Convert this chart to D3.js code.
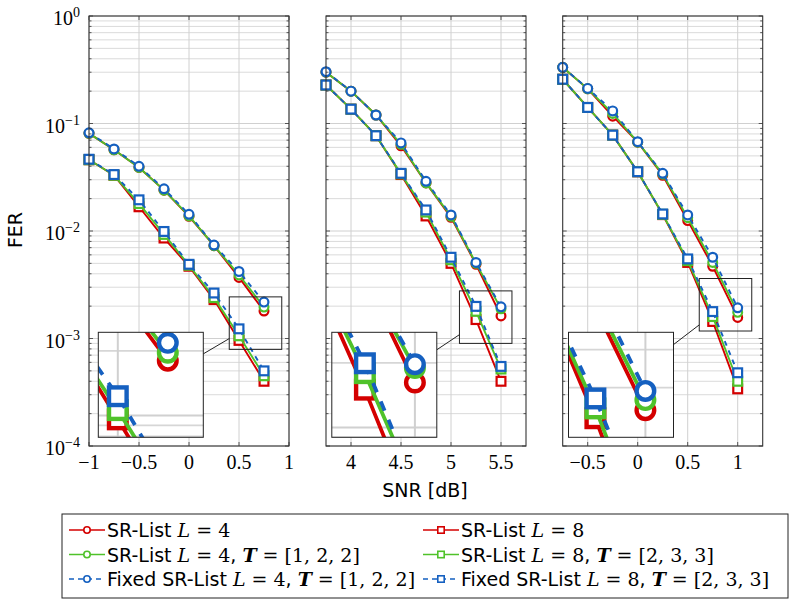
<!DOCTYPE html>
<html>
<head>
<meta charset="utf-8">
<script src="https://cdn.jsdelivr.net/npm/d3@7"></script>
<style>
body { margin: 0; background: #fff; }
text { fill: #000; }
</style>
</head>
<body>
<svg id="chart" width="790" height="600"></svg>
<script>
// SNR points of each panel
const snr1 = [-1, -0.75, -0.5, -0.25, 0, 0.25, 0.5, 0.75];
const snr2 = [3.75, 4, 4.25, 4.5, 4.75, 5, 5.25, 5.5];
const snr3 = [-0.75, -0.5, -0.25, 0, 0.25, 0.5, 0.75, 1];

// panel 1
const p1_L4  = [0.081, 0.057, 0.039, 0.024, 0.0137, 0.0073, 0.0037, 0.0018];
const p1_L8  = [0.046, 0.033, 0.0168, 0.0086, 0.0047, 0.0023, 0.00096, 0.00040];
const p1_L4T = [0.081, 0.057, 0.039, 0.024, 0.0138, 0.0073, 0.0039, 0.00196];
const p1_L8T = [0.046, 0.033, 0.018, 0.0093, 0.0048, 0.0024, 0.00106, 0.00045];
const p1_L4F = [0.082, 0.058, 0.040, 0.0247, 0.0143, 0.0074, 0.0042, 0.00218];
const p1_L8F = [0.0465, 0.0335, 0.0195, 0.0099, 0.0049, 0.00265, 0.00123, 0.00050];

// panel 2
const p2_L4  = [0.30, 0.20, 0.12, 0.062, 0.028, 0.0134, 0.0049, 0.00162];
const p2_L8  = [0.228, 0.136, 0.077, 0.0335, 0.0138, 0.0050, 0.0015, 0.00040];
const p2_L4T = [0.30, 0.20, 0.12, 0.064, 0.028, 0.0137, 0.0050, 0.00189];
const p2_L8T = [0.228, 0.136, 0.077, 0.034, 0.0150, 0.0054, 0.00179, 0.00052];
const p2_L4F = [0.303, 0.20, 0.12, 0.066, 0.029, 0.0141, 0.0051, 0.00197];
const p2_L8F = [0.228, 0.136, 0.077, 0.0344, 0.0157, 0.0057, 0.00199, 0.00055];

// panel 3
const p3_L4  = [0.333, 0.21, 0.117, 0.067, 0.033, 0.0125, 0.0047, 0.00157];
const p3_L8  = [0.258, 0.141, 0.078, 0.0355, 0.0142, 0.0051, 0.00144, 0.00034];
const p3_L4T = [0.333, 0.21, 0.124, 0.067, 0.0338, 0.0133, 0.0051, 0.00175];
const p3_L8T = [0.258, 0.141, 0.078, 0.0356, 0.0143, 0.0053, 0.0016, 0.00040];
const p3_L4F = [0.333, 0.212, 0.131, 0.0677, 0.0344, 0.0141, 0.0057, 0.00193];
const p3_L8F = [0.258, 0.141, 0.078, 0.0356, 0.0144, 0.0055, 0.00178, 0.00048];

// x ticks
const xTicks1 = [-1, -0.5, 0, 0.5, 1];
const xTicks2 = [4, 4.5, 5, 5.5];
const xTicks3 = [-0.5, 0, 0.5, 1];
const yExp = [0, -1, -2, -3, -4];

// centre of the zoomed region in each panel (snr, FER)
const spy1 = [0.665, 0.00139];
const spy2 = [5.347, 0.00158];
const spy3 = [0.878, 0.00206];

const legendLabels = [
  [["SR-List ", "sf"], ["L", "mi"], [" = 4", "mr"]],
  [["SR-List ", "sf"], ["L", "mi"], [" = 8", "mr"]],
  [["SR-List ", "sf"], ["L", "mi"], [" = 4", "mr"], [", ", "sf"], ["T", "mb"], [" = [1, 2, 2]", "mr"]],
  [["SR-List ", "sf"], ["L", "mi"], [" = 8", "mr"], [", ", "sf"], ["T", "mb"], [" = [2, 3, 3]", "mr"]],
  [["Fixed SR-List ", "sf"], ["L", "mi"], [" = 4", "mr"], [", ", "sf"], ["T", "mb"], [" = [1, 2, 2]", "mr"]],
  [["Fixed SR-List ", "sf"], ["L", "mi"], [" = 8", "mr"], [", ", "sf"], ["T", "mb"], [" = [2, 3, 3]", "mr"]]
];

const RED = "#d40000", GREEN = "#4fc22a", BLUE = "#1560c0";
const styles = [
  {color: RED, mark: "circle", dash: null},
  {color: RED, mark: "square", dash: null},
  {color: GREEN, mark: "circle", dash: null},
  {color: GREEN, mark: "square", dash: null},
  {color: BLUE, mark: "circle", dash: "5,5"},
  {color: BLUE, mark: "square", dash: "5,5"}
];

const SERIF = "'Liberation Serif', 'DejaVu Serif', serif";
const MATH = "'DejaVu Serif', serif";
const SANS = "'DejaVu Sans', sans-serif";

const plotTop = 16, plotBottom = 446, pw = 200;
const panels = [
  {left: 89, domain: [-1, 1], ticks: xTicks1, snr: snr1, fer: [p1_L4, p1_L8, p1_L4T, p1_L8T, p1_L4F, p1_L8F], spy: spy1, inset: [61.8, 384.8]},
  {left: 326, domain: [3.75, 5.75], ticks: xTicks2, snr: snr2, fer: [p2_L4, p2_L8, p2_L4T, p2_L8T, p2_L4F, p2_L8F], spy: spy2, inset: [58.3, 384.8]},
  {left: 562.7, domain: [-0.75, 1.25], ticks: xTicks3, snr: snr3, fer: [p3_L4, p3_L8, p3_L4T, p3_L8T, p3_L4F, p3_L8F], spy: spy3, inset: [58.3, 384.8]}
];

const svg = d3.select("#chart");
const y = d3.scaleLog().domain([1e-4, 1]).range([plotBottom, plotTop]);

const majorY = yExp.map(k => Math.pow(10, k));
const minorY = [];
[-4, -3, -2, -1].forEach(k => { for (let m = 2; m <= 9; m++) minorY.push(m * Math.pow(10, k)); });

const fmt = v => (v < 0 ? "\u2212" : "") + Math.abs(v);

function drawMark(g, st, cx, cy, r, sw) {
  if (st.mark === "circle") {
    g.append("circle").attr("cx", cx).attr("cy", cy).attr("r", r)
      .attr("fill", "#fff").attr("stroke", st.color).attr("stroke-width", sw);
  } else {
    g.append("rect").attr("x", cx - r).attr("y", cy - r).attr("width", 2 * r).attr("height", 2 * r)
      .attr("fill", "#fff").attr("stroke", st.color).attr("stroke-width", sw);
  }
}

function drawContent(g, x, p) {
  g.append("g").selectAll("line").data(minorY).enter().append("line")
    .attr("x1", 0).attr("x2", pw).attr("y1", d => y(d)).attr("y2", d => y(d))
    .attr("stroke", "#d6d6d6").attr("stroke-width", 0.9);
  g.append("g").selectAll("line").data(majorY).enter().append("line")
    .attr("x1", 0).attr("x2", pw).attr("y1", d => y(d)).attr("y2", d => y(d))
    .attr("stroke", "#d0d0d0").attr("stroke-width", 1);
  g.append("g").selectAll("line").data(p.ticks).enter().append("line")
    .attr("x1", d => x(d)).attr("x2", d => x(d)).attr("y1", plotTop).attr("y2", plotBottom)
    .attr("stroke", "#d0d0d0").attr("stroke-width", 1);

  const line = d3.line().x(d => x(d[0])).y(d => y(d[1]));
  p.fer.forEach((vals, i) => {
    const st = styles[i];
    const pts = p.snr.map((s, j) => [s, vals[j]]);
    const sg = g.append("g");
    sg.append("path").datum(pts).attr("d", line)
      .attr("fill", "none").attr("stroke", st.color).attr("stroke-width", 1.9)
      .attr("stroke-dasharray", st.dash).attr("stroke-linejoin", "round");
    pts.forEach(d => drawMark(sg, st, x(d[0]), y(d[1]), 4.4, 2.2));
  });
}

panels.forEach((p, pi) => {
  const x = d3.scaleLinear().domain(p.domain).range([0, pw]);
  const g = svg.append("g").attr("transform", `translate(${p.left},0)`);

  drawContent(g.append("g"), x, p);

  // spy box and magnified inset
  const cx = x(p.spy[0]), cy = y(p.spy[1]);
  const hb = 26.25, hi = 52.5;
  const [icx, icy] = p.inset;
  const dx = cx - icx, dy = cy - icy;
  const t1 = Math.min(hi / Math.abs(dx), hi / Math.abs(dy));
  const t2 = Math.min(hb / Math.abs(dx), hb / Math.abs(dy));
  g.append("line")
    .attr("x1", icx + t1 * dx).attr("y1", icy + t1 * dy)
    .attr("x2", cx - t2 * dx).attr("y2", cy - t2 * dy)
    .attr("stroke", "#222").attr("stroke-width", 1);
  g.append("rect").attr("x", cx - hb).attr("y", cy - hb).attr("width", 2 * hb).attr("height", 2 * hb)
    .attr("fill", "none").attr("stroke", "#222").attr("stroke-width", 1);

  const clipId = "clip" + pi;
  g.append("clipPath").attr("id", clipId).append("rect")
    .attr("x", icx - hi).attr("y", icy - hi).attr("width", 2 * hi).attr("height", 2 * hi);
  const ig = g.append("g").attr("clip-path", `url(#${clipId})`);
  ig.append("rect").attr("x", icx - hi).attr("y", icy - hi).attr("width", 2 * hi).attr("height", 2 * hi).attr("fill", "#fff");
  drawContent(ig.append("g").attr("transform", `translate(${icx},${icy}) scale(2) translate(${-cx},${-cy})`), x, p);
  g.append("rect").attr("x", icx - hi).attr("y", icy - hi).attr("width", 2 * hi).attr("height", 2 * hi)
    .attr("fill", "none").attr("stroke", "#222").attr("stroke-width", 1);

  // frame ticks
  const tk = g.append("g").attr("stroke", "#333").attr("stroke-width", 0.8);
  p.ticks.forEach(t => {
    tk.append("line").attr("x1", x(t)).attr("x2", x(t)).attr("y1", plotBottom).attr("y2", plotBottom - 4);
    tk.append("line").attr("x1", x(t)).attr("x2", x(t)).attr("y1", plotTop).attr("y2", plotTop + 4);
  });
  majorY.forEach(v => {
    tk.append("line").attr("x1", 0).attr("x2", 4).attr("y1", y(v)).attr("y2", y(v));
    tk.append("line").attr("x1", pw).attr("x2", pw - 4).attr("y1", y(v)).attr("y2", y(v));
  });
  minorY.forEach(v => {
    tk.append("line").attr("x1", 0).attr("x2", 2.5).attr("y1", y(v)).attr("y2", y(v));
    tk.append("line").attr("x1", pw).attr("x2", pw - 2.5).attr("y1", y(v)).attr("y2", y(v));
  });

  g.append("rect").attr("x", 0).attr("y", plotTop).attr("width", pw).attr("height", plotBottom - plotTop)
    .attr("fill", "none").attr("stroke", "#333").attr("stroke-width", 1.1);

  // x tick labels
  g.append("g").selectAll("text").data(p.ticks).enter().append("text")
    .attr("x", d => x(d)).attr("y", plotBottom + 23)
    .attr("text-anchor", "middle").style("font-family", SERIF).style("font-size", "20px")
    .text(fmt);

  // y tick labels only on first panel
  if (pi === 0) {
    yExp.forEach(k => {
      const t = g.append("text").attr("x", -9).attr("y", y(Math.pow(10, k)) + 9)
        .attr("text-anchor", "end").style("font-family", SERIF).style("font-size", "20px");
      t.append("tspan").text("10");
      t.append("tspan").attr("dy", -8).style("font-size", "14px").text(k === 0 ? "0" : "\u2212" + (-k));
    });
  }
});

// axis labels
svg.append("text").attr("transform", "translate(22,230) rotate(-90)")
  .attr("text-anchor", "middle").style("font-family", SANS).style("font-size", "19px").text("FER");
svg.append("text").attr("x", 425).attr("y", 497)
  .attr("text-anchor", "middle").style("font-family", SANS).style("font-size", "19px").text("SNR [dB]");

// legend
const lg = svg.append("g");
lg.append("rect").attr("x", 62).attr("y", 514).attr("width", 726).attr("height", 84)
  .attr("fill", "#fff").attr("stroke", "#222").attr("stroke-width", 1);
const fontOf = {
  sf: [SANS, "normal", "normal"],
  mi: [MATH, "italic", "normal"],
  mr: [MATH, "normal", "normal"],
  mb: [MATH, "italic", "bold"]
};
legendLabels.forEach((parts, i) => {
  const st = styles[i];
  const col = i % 2, row = Math.floor(i / 2);
  const x0 = col === 0 ? 69 : 423;
  const yc = 530 + row * 24.5;
  lg.append("line").attr("x1", x0).attr("x2", x0 + 36).attr("y1", yc).attr("y2", yc)
    .attr("stroke", st.color).attr("stroke-width", 1.6).attr("stroke-dasharray", st.dash ? "5,4" : null);
  drawMark(lg, st, x0 + 18, yc, 3.2, 1.6);
  const t = lg.append("text").attr("x", x0 + 38).attr("y", yc + 7).style("font-size", "19px")
    .style("white-space", "pre");
  parts.forEach(([s, f]) => {
    t.append("tspan").text(s).style("font-family", fontOf[f][0])
      .style("font-style", fontOf[f][1]).style("font-weight", fontOf[f][2]);
  });
});
</script>
</body>
</html>
